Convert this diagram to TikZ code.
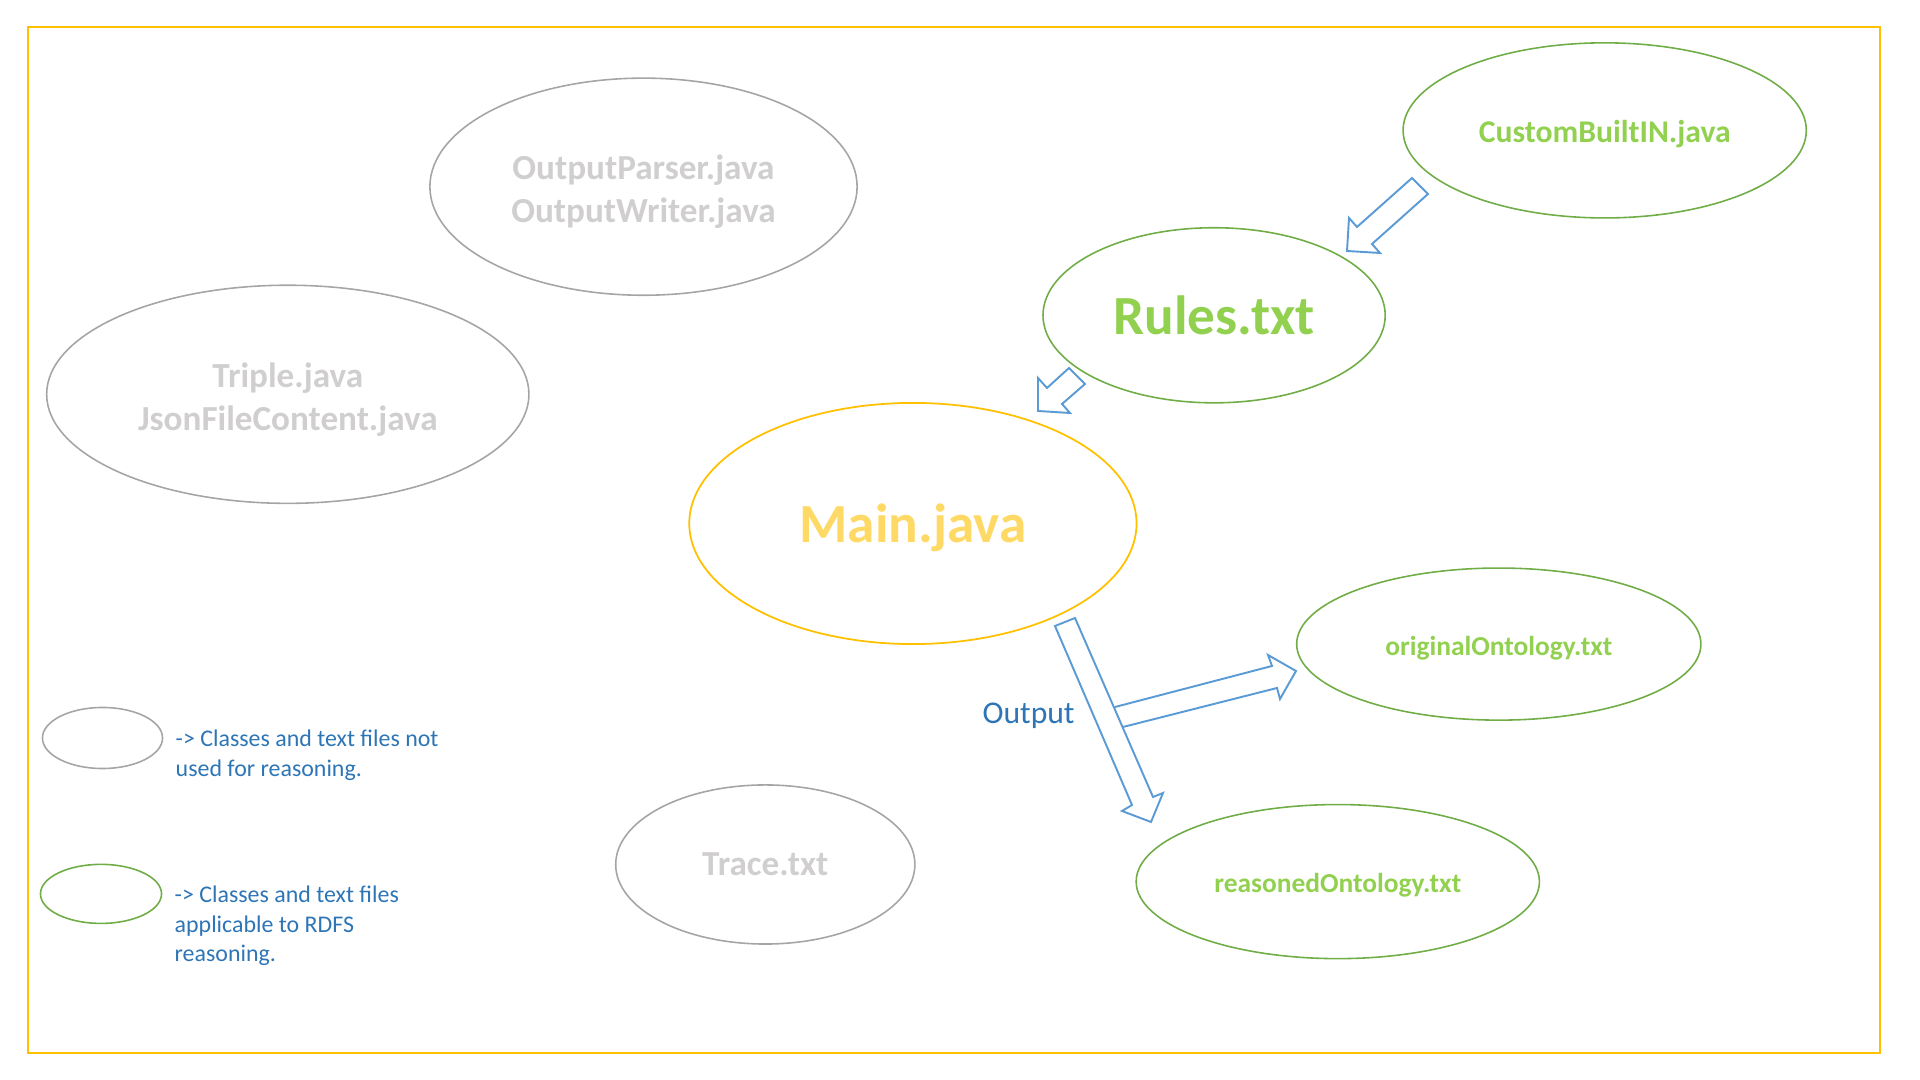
\documentclass[tikz,border=0pt]{standalone}
\usepackage{fontspec}
\setmainfont{Carlito}
\usetikzlibrary{shapes.geometric}
\definecolor{frameorange}{HTML}{FFC000}
\definecolor{unusedline}{HTML}{A5A5A5}
\definecolor{unusedtext}{HTML}{D0CECE}
\definecolor{rdfsline}{HTML}{70AD47}
\definecolor{rdfstext}{HTML}{92D050}
\definecolor{maintext}{HTML}{FFD966}
\definecolor{arrowblue}{HTML}{5B9BD5}
\definecolor{legendblue}{HTML}{2E75B6}
\newcommand{\topstrut}{\rule{0pt}{0.98em}}
\tikzset{
    every node/.style={align=center, inner sep=0pt,},
    droptext/.style={execute at begin node={\rule{0pt}{\dimexpr0.72em+2pt\relax}},},
    unused/.style={draw=unusedline, ellipse, line width=0.45pt, text=unusedtext, font=\fontsize{10}{12.2}\selectfont\bfseries,},
    rdfs/.style={draw=rdfsline, ellipse, line width=0.45pt, text=rdfstext,},
    mainfile/.style={draw=frameorange, ellipse, line width=0.5pt, text=maintext, font=\fontsize{15.7}{19}\selectfont\bfseries, droptext,},
    blockarrow/.style={draw=arrowblue, line width=0.55pt, line join=miter,},
    legendtext/.style={align=left, anchor=west, text=legendblue, font=\fontsize{6.8}{8.4}\selectfont,},
}

\begin{document}
\begin{tikzpicture}[x=0.01cm, y=-0.01cm]
    \useasboundingbox (0,0) rectangle (1920,1080);
    \draw[frameorange, line width=0.6pt] (28,27) rectangle (1880,1053);

    % files not used for reasoning
    \node[unused, minimum width=4.27cm, minimum height=2.17cm] (parser) at (643.5,186.7) {\topstrut OutputParser.java\\OutputWriter.java};
    \node[unused, minimum width=4.82cm, minimum height=2.18cm] (triple) at (287.8,394.3) {\topstrut Triple.java\\JsonFileContent.java};
    \node[unused, minimum width=2.99cm, minimum height=1.59cm] (trace) at (765.3,864.5) {Trace.txt};

    % files used for RDFS reasoning
    \node[rdfs, droptext, minimum width=4.03cm, minimum height=1.75cm, font=\fontsize{9}{11}\selectfont\bfseries] (builtin) at (1604.7,130.4) {CustomBuiltIN.java};
    \node[rdfs, minimum width=3.42cm, minimum height=1.75cm, font=\fontsize{15.7}{19}\selectfont\bfseries] (rules) at (1214.1,315.3) {Rules.txt};
    \node[mainfile, minimum width=4.47cm, minimum height=2.41cm] (main) at (912.9,523.5) {Main.java};
    \node[rdfs, droptext, minimum width=4.04cm, minimum height=1.52cm, font=\fontsize{7.8}{9.5}\selectfont\bfseries] (original) at (1498.8,644.1) {originalOntology.txt};
    \node[rdfs, droptext, minimum width=4.03cm, minimum height=1.54cm, font=\fontsize{7.8}{9.5}\selectfont\bfseries] (reasoned) at (1337.8,881.6) {reasonedOntology.txt};

    % block arrows
    \draw[blockarrow] (1412,178) -- (1428,194) -- (1372,244) -- (1380,253) -- (1347,251) -- (1349,218) -- (1357,227) -- cycle;
    \draw[blockarrow] (1069,368) -- (1085,384) -- (1062,404) -- (1070,413) -- (1038,411) -- (1038,378) -- (1047,388) -- cycle;
    \draw[blockarrow] (1055,626) -- (1075,618) -- (1153,797) -- (1163,793) -- (1151,822) -- (1122,811) -- (1132,805) -- cycle;
    \draw[blockarrow] (1115,707) -- (1272,666) -- (1268,655) -- (1296,671) -- (1280,699) -- (1277,688) -- (1123,727);
    \node[text=legendblue, font=\fontsize{9}{11}\selectfont] (output) at (1028.6,716) {Output};

    % legend
    \node[draw=unusedline, ellipse, line width=0.45pt, minimum width=1.20cm, minimum height=0.61cm] (legunused) at (102.5,738) {};
    \node[draw=rdfsline, ellipse, line width=0.45pt, minimum width=1.21cm, minimum height=0.59cm] (legrdfs) at (101,893.9) {};
    \node[legendtext] (legunusedtext) at (175,755) {-> Classes and text files not\\used for reasoning.};
    \node[legendtext] (legrdfstext) at (174,926) {-> Classes and text files\\applicable to RDFS\\reasoning.};
\end{tikzpicture}
\end{document}
